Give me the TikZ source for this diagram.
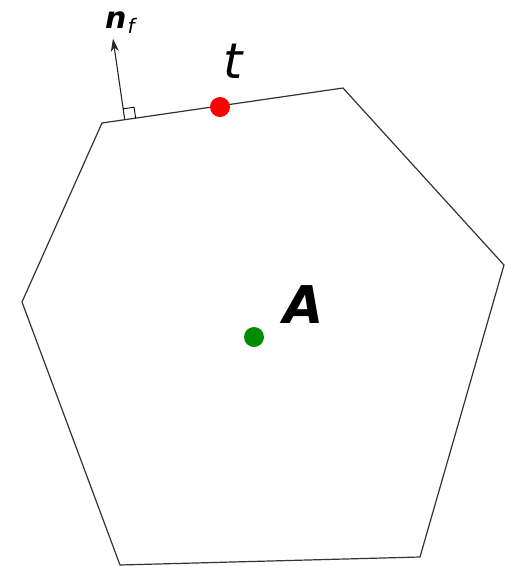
\documentclass[tikz,border=0pt]{standalone}
\usepackage{fontspec}
\setmainfont{DejaVu Sans}
\usetikzlibrary{arrows.meta,calc}
\tikzset{
  poly/.style={draw=black!80, line width=1.2pt, line join=miter},
  dot/.style={circle, inner sep=0pt, minimum size=20pt},
  lbl/.style={inner sep=0pt, anchor=center}
}
\begin{document}
\begin{tikzpicture}[x=1pt,y=-1pt]
\useasboundingbox (0,0) rectangle (505,566);
\coordinate (p1) at (102,123);
\coordinate (p2) at (343,88);
\coordinate (p3) at (504,265);
\coordinate (p4) at (420,557);
\coordinate (p5) at (120,565);
\coordinate (p6) at (22,302);
\draw[poly] (p1) -- (p2) -- (p3) -- (p4) -- (p5) -- (p6) -- cycle;
% normal
\coordinate (nb) at ($(p1)!23pt!(p2)$);
\coordinate (nt) at ($(nb)!82pt!90:(p2)$);
\draw[line width=1.1pt, black!85, -{Stealth[length=13pt,width=8pt,inset=4pt]}] (nb) -- (nt);
% right angle mark
\coordinate (ra1) at ($(nb)!11pt!(p2)$);
\coordinate (ra2) at ($(nb)!11pt!(nt)$);
\draw[line width=0.9pt] (ra2) -- ($(ra2)+(ra1)-(nb)$) -- (ra1);
\node[lbl, anchor=base west] (nf) at (105,28) {\fontsize{30}{34}\selectfont\bfseries\itshape n\hspace{1pt}\raisebox{-5pt}{\fontsize{20}{24}\selectfont\mdseries\itshape f}};
% points
\node[dot, fill=red] (t) at (220,107) {};
\node[lbl, anchor=base] (tl) at (233,78) {\fontsize{49}{56}\selectfont\itshape t};
\node[dot, fill=black!45!green] (A) at (254,337) {};
\node[lbl, anchor=base west] (Al) at (283,323) {\fontsize{52}{60}\selectfont\bfseries\itshape A};
\end{tikzpicture}
\end{document}
